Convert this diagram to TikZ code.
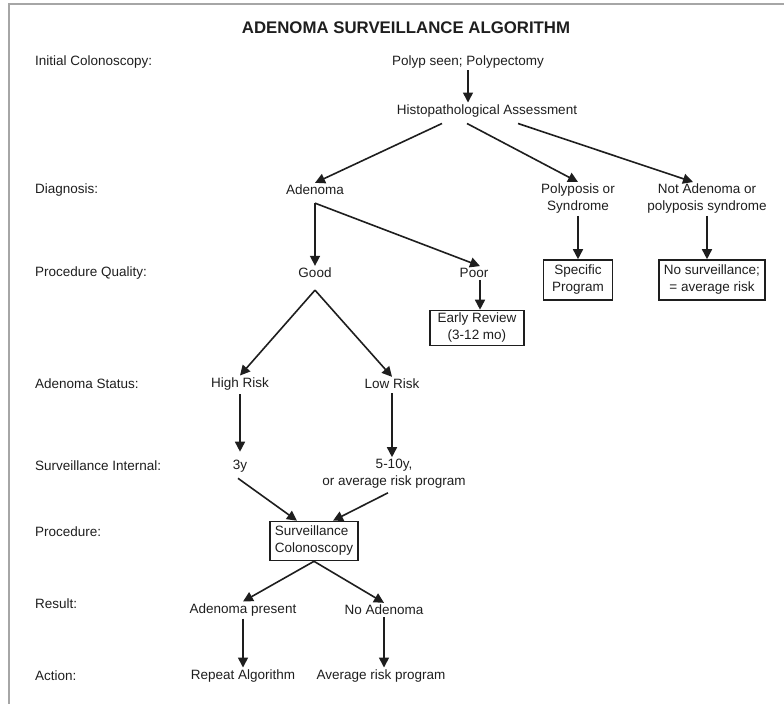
\documentclass[tikz,border=0pt]{standalone}
\usepackage{fontspec}
\setmainfont{Liberation Sans}
\usepackage{xcolor}
\usepackage{tikz}
\usetikzlibrary{positioning,calc,arrows.meta}

\definecolor{ink}{RGB}{30,30,30}
\tikzset{
  txt/.style={text=ink, inner sep=2pt, align=center, font=\fontsize{13.5}{17}\selectfont},
  lbl/.style={txt, anchor=west, align=left},
  box/.style={txt, draw=ink, line width=1.6pt, inner xsep=5pt},
  arr/.style={draw=ink, line width=1.6pt, -{Triangle[length=10pt,width=10pt]}}
}

\begin{document}
\begin{tikzpicture}[x=1pt,y=-1pt]
  \useasboundingbox (0,0) rectangle (784,704);
  % khung
  \draw[gray!70, line width=2pt] (784,4) -- (9,4) -- (9,704);

  % tiêu đề
  \node[txt, font=\fontsize{16.8}{20}\selectfont\bfseries] (title) at (406,28) {ADENOMA SURVEILLANCE ALGORITHM};

  % nhãn các bước bên trái
  \foreach \t/\y [count=\i] in {Initial Colonoscopy:/62, Diagnosis:/190, Procedure Quality:/273,
      Adenoma Status:/384, Surveillance Internal:/466, Procedure:/532, Result:/604, Action:/676} {
    \node[lbl] (lbl\i) at (33,\y) {\t};
  }

  % các nút
  \node[txt] (polyp) at (468,62) {Polyp seen; Polypectomy};
  \node[txt] (histo) at (487,111) {Histopathological Assessment};
  \node[txt] (adenoma) at (315,190) {Adenoma};
  \node[txt] (polyposis) at (578,199) {Polyposis or\\Syndrome};
  \node[txt] (notaden) at (707,199) {Not Adenoma or\\polyposis syndrome};
  \node[box, minimum width=69pt, minimum height=40pt] (specific) at (578,280) {Specific\\Program};
  \node[box, minimum width=99pt, minimum height=40pt] (nosurv) at (712,280) {No surveillance;\\= average risk};
  \node[txt] (good) at (315,273) {Good};
  \node[txt] (poor) at (474,273) {Poor};
  \node[box, minimum width=94pt, minimum height=35pt] (early) at (477,328) {Early Review\\(3-12 mo)};
  \node[txt] (high) at (240,384) {High Risk};
  \node[txt] (low) at (392,384) {Low Risk};
  \node[txt] (three) at (240,466) {3y};
  \node[txt] (five) at (394,474) {5-10y,\\or average risk program};
  \node[box, align=left, minimum width=85pt, minimum height=39pt] (surv) at (314,541) {Surveillance\\Colonoscopy};
  \node[txt] (adpres) at (243,610) {Adenoma present};
  \node[txt] (noaden) at (384,610) {No Adenoma};
  \node[txt] (repeat) at (243,676) {Repeat Algorithm};
  \node[txt] (avg) at (381,676) {Average risk program};

  % điểm neo
  \coordinate (adfork) at ([yshift=-6pt]adenoma.south);
  \coordinate (poortop) at ([xshift=6pt]poor.north);
  \coordinate (poorbot) at ([xshift=6pt]poor.south);

  % mũi tên
  \draw[arr] (polyp.south) -- (polyp.south |- histo.north);
  \draw[arr] ([xshift=-45pt,yshift=-4pt]histo.south) -- (adenoma.north);
  \draw[arr] ([xshift=-20pt,yshift=-4pt]histo.south) -- (polyposis.north);
  \draw[arr] ([xshift=31pt,yshift=-4pt]histo.south) -- ([xshift=-14pt]notaden.north);
  \draw[arr] (adfork) -- (good.north);
  \draw[arr] (adfork) -- (poortop);
  \draw[arr] (poorbot) -- (poorbot |- early.north);
  \draw[arr] (polyposis.south) -- (specific.north);
  \draw[arr] (notaden.south) -- (notaden.south |- nosurv.north);
  \draw[arr] ([yshift=-10pt]good.south) -- (high.north);
  \draw[arr] ([yshift=-10pt]good.south) -- (low.north);
  \draw[arr] ([yshift=-2pt]high.south) -- ([yshift=6pt]three.north);
  \draw[arr] ([yshift=-2pt]low.south) -- (low.south |- five.north);
  \draw[arr] ([xshift=-2pt,yshift=-4pt]three.south) -- ([xshift=-17pt]surv.north);
  \draw[arr] ([xshift=-6pt,yshift=-2pt]five.south) -- ([xshift=19pt]surv.north);
  \draw[arr] (surv.south) -- (adpres.north);
  \draw[arr] (surv.south) -- (noaden.north);
  \draw[arr] (adpres) -- (repeat);
  \draw[arr] (noaden.south) -- (noaden.south |- avg.north);
\end{tikzpicture}
\end{document}
